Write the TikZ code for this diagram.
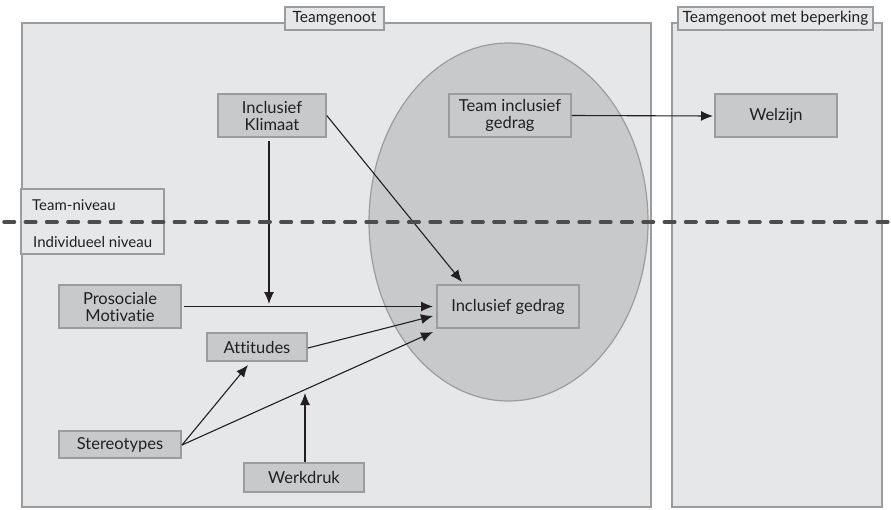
\documentclass[tikz,border=0pt]{standalone}
\usepackage{fontspec}
\setmainfont{Lato}[Ligatures=NoCommon]
\usetikzlibrary{arrows.meta}
\definecolor{panelfill}{HTML}{E6E7E8}
\definecolor{boxfill}{HTML}{C8C9CB}
\definecolor{edgegray}{HTML}{9C9C9C}
\definecolor{ink}{HTML}{231F20}
\definecolor{dashgray}{HTML}{4D4D4D}
\tikzset{
  panel/.style={draw=edgegray, fill=panelfill, line width=1.2pt},
  paneltitle/.style={draw=edgegray, fill=panelfill, line width=1.2pt, inner sep=1pt, font=\fontsize{15.5}{16}\selectfont, text=ink, minimum height=23pt},
  factor/.style={draw=edgegray, fill=boxfill, line width=1.5pt, inner sep=1pt, align=center, font=\fontsize{16.5}{17}\selectfont, text=ink},
  link/.style={draw=ink, line width=1.1pt, -{Latex[length=12pt,width=10pt]}},
  levelline/.style={draw=dashgray, line width=3.5pt, line cap=round, dash pattern=on 10.5pt off 10.8pt},
  leveltext/.style={font=\fontsize{15}{16}\selectfont, text=ink, anchor=west, inner sep=0pt}
}
\begin{document}
\begin{tikzpicture}[x=1pt,y=-1pt]
\useasboundingbox[fill=white] (0,0) rectangle (891,509);
% panels
\draw[panel] (22,23) rectangle (651,507);
\draw[panel] (672,23) rectangle (882,507);
\node[paneltitle, minimum width=99pt] (tL) at (334.5,18.5) {Teamgenoot};
\node[paneltitle, minimum width=195pt] (tR) at (775.5,18.5) {Teamgenoot met beperking};
% ellipse
\draw[draw=edgegray, fill=boxfill, line width=1.2pt] (508.5,222) ellipse [x radius=139.5, y radius=179];
% factors
\node[factor, minimum width=108pt, minimum height=43pt] (klim) at (272,115.5) {Inclusief\\Klimaat};
\node[factor, minimum width=122pt, minimum height=43pt] (team) at (510,115.5) {Team inclusief\\gedrag};
\node[factor, minimum width=122pt, minimum height=43pt] (welz) at (776,115.5) {Welzijn};
\node[factor, minimum width=142pt, minimum height=43pt] (incl) at (508,306.5) {Inclusief gedrag};
\node[factor, minimum width=122pt, minimum height=43pt] (pros) at (120,306.5) {Prosociale\\Motivatie};
\node[factor, minimum width=100pt, minimum height=28pt] (att) at (257,347) {Attitudes};
\node[factor, minimum width=122pt, minimum height=27pt] (ster) at (120,444.5) {Stereotypes};
\node[factor, minimum width=120pt, minimum height=29pt] (werk) at (304,477.5) {Werkdruk};
% helper coordinates
\coordinate (klimS) at (269,141);
\coordinate (modP) at (269,304);
\coordinate (werkS) at (305,462);
\coordinate (werkT) at (305,393);
\coordinate (tipKI) at (462,282);
\coordinate (tipPr) at (433,306.5);
\coordinate (tipAt) at (433,316);
\coordinate (tipSt) at (433,332);
\coordinate (tipSA) at (248,365);
\coordinate (welzT) at (713,116);
\coordinate (prosS) at (184,306.5);
\coordinate (attS) at (308,348);
\coordinate (sterS) at (182,445);
% connectors
\draw[link] (team.east) -- (welzT);
\draw[link] (klim.east) -- (tipKI);
\draw[link] (klimS) -- (modP);
\draw[link] (prosS) -- (tipPr);
\draw[link] (attS) -- (tipAt);
\draw[link] (sterS) -- (tipSA);
\draw[link] (sterS) -- (tipSt);
\draw[link] (werkS) -- (werkT);
% level box and dashed separator
\draw[draw=edgegray, fill=panelfill, line width=1.2pt] (21,189) rectangle (164,254);
\node[leveltext] (tn) at (32,205) {Team-niveau};
\node[leveltext] (in) at (33,242) {Individueel niveau};
\draw[levelline] (4,222) -- (891,222);
\end{tikzpicture}
\end{document}
